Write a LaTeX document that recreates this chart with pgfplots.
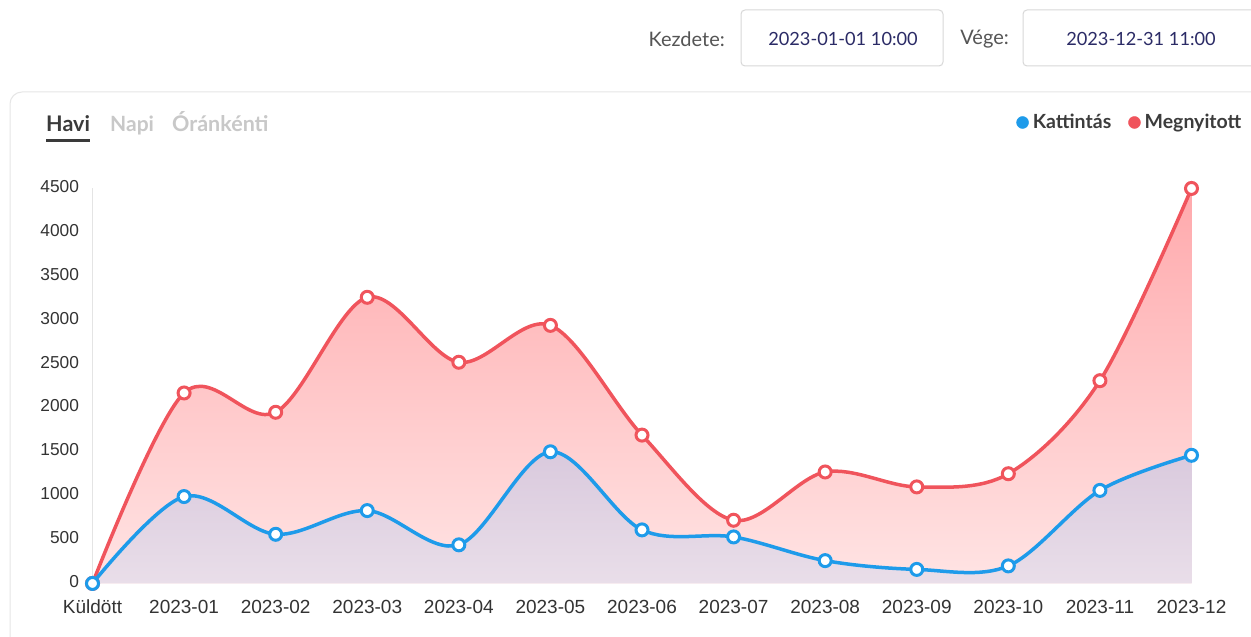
\documentclass[border=0pt]{standalone}
\usepackage{fontspec}
\setmainfont{Liberation Sans}
\newfontfamily\lato{Lato}
\usepackage{pgfplots}
\pgfplotsset{compat=1.18}
\definecolor{redline}{HTML}{F0545C}
\definecolor{blueline}{HTML}{1E9BEA}
\definecolor{redtop}{HTML}{FFA9AC}
\definecolor{redbot}{HTML}{FFE4E4}
\definecolor{bluetop}{HTML}{D9C9DD}
\definecolor{bluebot}{HTML}{E9DEE9}
\definecolor{ticktext}{HTML}{333333}
\definecolor{legtext}{HTML}{3C3C3C}
\definecolor{tabgrey}{HTML}{C8C8C8}
\definecolor{tabdark}{HTML}{3A3A3A}
\definecolor{boxtext}{HTML}{2B2B66}
\definecolor{lbltext}{HTML}{555555}
\definecolor{cardborder}{HTML}{E6E6E6}
\definecolor{boxborder}{HTML}{D8D8D8}
\definecolor{axisgrey}{HTML}{E4E4E4}
\begin{document}
\begin{tikzpicture}[x=1pt,y=1pt]
\useasboundingbox (0,0) rectangle (1251,637);
\fill[white] (0,0) rectangle (1251,637);
% card
\draw[cardborder, line width=1pt, rounded corners=12pt] (10,-30) -- (10,545) -- (1280,545);
% top controls
\node[anchor=east, inner sep=0pt, text=lbltext, font=\lato\fontsize{20}{22}\selectfont] at (725,598) {Kezdete:};
\draw[boxborder, line width=1pt, rounded corners=4pt] (741,571) rectangle (943,627);
\node[inner sep=0pt, text=boxtext, font=\lato\fontsize{18.2}{21}\selectfont] at (843,598) {2023-01-01 10:00};
\node[anchor=east, inner sep=0pt, text=lbltext, font=\lato\fontsize{20}{22}\selectfont] at (1009,598) {Vége:};
\draw[boxborder, line width=1pt, rounded corners=4pt] (1023,571) rectangle (1275,627);
\node[inner sep=0pt, text=boxtext, font=\lato\fontsize{18.2}{21}\selectfont] at (1141,598) {2023-12-31 11:00};
% tabs
\node[anchor=base west, inner sep=0pt, text=tabdark, font=\lato\bfseries\fontsize{21.5}{24}\selectfont] at (46,505) {Havi};
\node[anchor=base west, inner sep=0pt, text=tabgrey, font=\lato\bfseries\fontsize{21}{24}\selectfont] at (110,505) {Napi};
\node[anchor=base west, inner sep=0pt, text=tabgrey, font=\lato\bfseries\fontsize{21.5}{24}\selectfont] at (172,505) {Óránkénti};
\fill[tabdark] (46,494.5) rectangle (90,497.5);
\begin{axis}[
  at={(101,61)}, anchor=origin,
  scale only axis, width=1099pt, height=395pt,
  xmin=0, xmax=12, ymin=0, ymax=4500,
  clip=false,
  axis lines*=left,
  x axis line style={draw=none},
  y axis line style={draw=axisgrey, line width=1pt},
  major tick length=0pt,
  xtick={0,...,12},
  xticklabels={Küldött,2023-01,2023-02,2023-03,2023-04,2023-05,2023-06,2023-07,2023-08,2023-09,2023-10,2023-11,2023-12},
  ytick={0,500,...,4500},
  /pgf/number format/1000 sep={},
  /pgf/number format/assume math mode=true,
  typeset ticklabels with strut,
  xticklabel style={font=\fontsize{19}{22}\selectfont, text=ticktext, yshift=-11pt},
  yticklabel style={font=\fontsize{17.3}{20}\selectfont, text=ticktext, xshift=-10pt},
  legend style={at={(1.0492,1.167)}, anchor=east, draw=none, fill=none, inner sep=0pt,
    font=\lato\bfseries\fontsize{19.5}{22}\selectfont, text=legtext,
    nodes={inner sep=4pt},
    /tikz/every even column/.append style={column sep=13pt}},
  legend columns=2,
]
\addlegendimage{legend image code/.code={\fill[blueline] (0pt,0pt) circle (6pt);}}
\addlegendentry{Kattintás}
\addlegendimage{legend image code/.code={\fill[redline] (0pt,0pt) circle (6pt);}}
\addlegendentry{Megnyitott}
% red fill
\addplot[forget plot, draw=none, smooth, tension=0.55, top color=redtop, bottom color=redbot] coordinates {
 (0,0) (1,2170) (2,1950) (3,3260) (4,2520) (5,2940) (6,1690) (7,720) (8,1270) (9,1100) (10,1250) (11,2310) (12,4500)
} \closedcycle;
% blue fill
\addplot[forget plot, draw=none, smooth, tension=0.55, top color=bluetop, bottom color=bluebot] coordinates {
 (0,0) (1,990) (2,560) (3,830) (4,440) (5,1500) (6,610) (7,530) (8,260) (9,160) (10,200) (11,1060) (12,1460)
} \closedcycle;
% red line
\addplot[forget plot, redline, line width=3.5pt, smooth, tension=0.55, mark=*, mark size=6pt,
  mark options={fill=white, draw=redline, line width=3pt}] coordinates {
 (0,0) (1,2170) (2,1950) (3,3260) (4,2520) (5,2940) (6,1690) (7,720) (8,1270) (9,1100) (10,1250) (11,2310) (12,4500)
};
% blue line
\addplot[forget plot, blueline, line width=3.5pt, smooth, tension=0.55, mark=*, mark size=6pt,
  mark options={fill=white, draw=blueline, line width=3pt}] coordinates {
 (0,0) (1,990) (2,560) (3,830) (4,440) (5,1500) (6,610) (7,530) (8,260) (9,160) (10,200) (11,1060) (12,1460)
};
\end{axis}
\end{tikzpicture}
\end{document}
